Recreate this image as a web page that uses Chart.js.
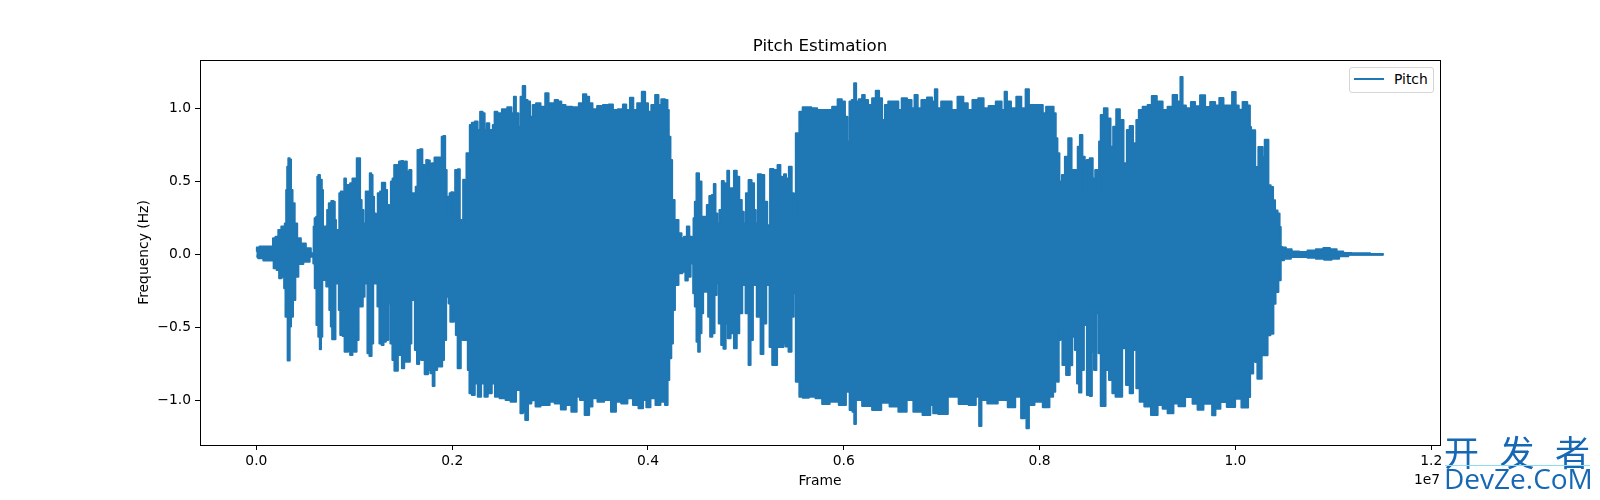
<!DOCTYPE html>
<html>
<head>
<meta charset="utf-8">
<title>Pitch Estimation</title>
<script src="https://cdn.jsdelivr.net/npm/chart.js@4"></script>
<style>
    html, body { margin: 0; padding: 0; background: #fff; }
    #wrap { position: relative; width: 1600px; height: 500px; overflow: hidden; font-family: "DejaVu Sans", sans-serif; }
    #legend { position: absolute; left: 1349px; top: 67px; width: 85px; height: 26px; box-sizing: border-box; border: 1px solid #d5d5d5; border-radius: 3px; background: #fff; }
    #legendLine { position: absolute; left: 4px; top: 10px; width: 30px; height: 2px; background: #1f77b4; }
    #legendText { position: absolute; left: 44px; top: 3px; font-size: 13.89px; line-height: 16px; color: #000; }
    #offset { position: absolute; left: 1414px; top: 471px; font-size: 13.89px; line-height: 16px; color: #000; }
    #markCn { position: absolute; left: 1444px; top: 432px; width: 150px; font-family: "Noto Sans CJK SC"; font-size: 35px; line-height: 38px; color: #1668b4; letter-spacing: 20.5px; white-space: nowrap; }
    #markRule { position: absolute; left: 1445px; top: 465px; width: 145px; height: 1px; background: #8fdcf0; }
    #markEn { position: absolute; left: 1444px; top: 459px; font-family: "Open Sans", sans-serif; font-size: 28px; line-height: 38px; color: #1668b4; white-space: nowrap; }
</style>
</head>
<body>
<div id="wrap">
    <canvas id="pitchChart" width="1600" height="500"></canvas>
    <div id="legend"><div id="legendLine"></div><div id="legendText">Pitch</div></div>
    <div id="offset">1e7</div>
    <div id="markCn">开发者</div>
    <div id="markRule"></div>
    <div id="markEn">DevZe.CoM</div>
</div>
<script>
// upper edge of the waveform
const topFrames = [0,10,54,112,156,184,207,241,269,282,299,310,320,333,347,361,378,405,429,480,531,582,588,602,619,626,639,660,677,684,704,718,728,752,779,796,806,820,840,854,871,888,908,922,942,973,990,1017,1034,1054,1065,1085,1102,1112,1122,1150,1167,1180,1194,1211,1228,1252,1275,1289,1309,1323,1347,1364,1384,1398,1418,1439,1449,1466,1493,1507,1527,1547,1575,1592,1619,1636,1656,1687,1704,1728,1741,1765,1779,1806,1833,1867,1888,1898,1922,1935,1952,1969,1979,2003,2017,2044,2071,2085,2105,2119,2139,2153,2173,2187,2214,2248,2272,2299,2323,2340,2367,2391,2408,2422,2445,2479,2537,2588,2622,2639,2663,2690,2707,2734,2758,2782,2809,2836,2877,2928,2973,2996,3030,3064,3098,3132,3183,3268,3319,3353,3387,3411,3455,3506,3574,3625,3659,3727,3761,3795,3836,3864,3915,3959,3983,4017,4051,4095,4119,4153,4194,4204,4221,4238,4255,4289,4334,4351,4385,4409,4436,4460,4470,4487,4504,4538,4555,4589,4613,4640,4664,4681,4698,4718,4742,4766,4783,4800,4820,4837,4861,4895,4919,4946,4970,4987,5014,5041,5075,5092,5109,5136,5174,5201,5235,5259,5303,5344,5361,5381,5398,5422,5456,5480,5500,5520,5541,5551,5609,5643,5694,5762,5847,5915,5959,6000,6024,6048,6068,6095,6116,6136,6170,6204,6224,6272,6306,6347,6374,6408,6432,6476,6544,6571,6612,6680,6704,6741,6769,6816,6884,6918,6942,6969,7020,7081,7122,7201,7241,7292,7336,7411,7445,7513,7592,7632,7653,7680,7735,7789,7837,7877,7905,7966,8024,8041,8092,8126,8160,8170,8194,8211,8245,8272,8313,8340,8364,8381,8398,8425,8449,8473,8490,8534,8551,8585,8602,8613,8636,8677,8711,8738,8765,8800,8840,8874,8908,8932,8976,9000,9027,9078,9129,9163,9231,9282,9333,9384,9425,9452,9469,9520,9571,9605,9673,9708,9776,9810,9861,9895,9946,9986,10020,10048,10099,10143,10153,10167,10177,10197,10207,10224,10245,10269,10286,10313,10327,10347,10374,10395,10415,10446,10456,10470,10490,10541,10609,10694,10779,10864,10932,11000,11068,11136,11238,11514];
const topValues = [0.02,0.046,0.053,0.053,0.053,0.11,0.12,0.167,0.19,0.132,0.212,0.44,0.6,0.658,0.65,0.44,0.35,0.212,0.11,0.075,0.041,0.007,0.19,0.247,0.258,0.532,0.543,0.51,0.44,0.167,0.19,0.155,0.304,0.35,0.365,0.36,0.235,0.167,0.167,0.418,0.43,0.395,0.52,0.44,0.475,0.486,0.52,0.52,0.658,0.658,0.372,0.304,0.212,0.12,0.43,0.43,0.555,0.543,0.395,0.28,0.212,0.418,0.43,0.49,0.49,0.44,0.338,0.304,0.498,0.52,0.612,0.612,0.532,0.635,0.64,0.59,0.635,0.566,0.578,0.418,0.418,0.463,0.715,0.72,0.612,0.555,0.646,0.642,0.566,0.623,0.664,0.664,0.612,0.806,0.81,0.578,0.395,0.235,0.418,0.425,0.235,0.578,0.582,0.235,0.2,0.51,0.498,0.692,0.692,0.886,0.902,0.909,0.852,0.977,0.966,0.852,0.897,0.852,0.806,0.886,0.977,0.966,0.993,1.007,0.966,1.08,0.966,0.874,1.08,1.153,1.057,1.046,0.943,1.023,1.034,1.011,1.103,1.034,1.034,1.057,1.046,1.023,1.011,1.007,1.034,1.096,1.08,1.034,0.993,1.016,1.023,1.027,0.989,0.993,1.027,0.989,1.073,0.989,1.034,1.114,1.034,0.977,1.023,1.091,1.023,1.062,1.057,0.989,0.806,0.646,0.372,0.235,0.144,0.11,0.12,0.19,0.12,0.064,0.247,0.36,0.555,0.498,0.258,0.258,0.338,0.4,0.406,0.482,0.28,0.212,0.304,0.502,0.486,0.35,0.573,0.452,0.452,0.573,0.532,0.372,0.292,0.212,0.418,0.509,0.486,0.304,0.212,0.548,0.543,0.36,0.2,0.584,0.578,0.612,0.532,0.44,0.548,0.52,0.6,0.418,0.247,0.829,0.829,0.977,1.007,1.007,1.0,0.989,0.989,1.011,1.062,1.046,0.943,0.772,1.046,1.057,1.171,1.046,1.062,1.091,1.057,1.023,1.069,1.121,1.069,0.92,1.023,1.046,1.046,0.989,1.069,1.057,1.0,1.091,1.0,1.057,1.075,1.046,1.13,1.0,1.046,1.046,0.989,1.08,1.034,0.989,1.057,1.069,1.0,1.016,1.046,0.989,1.114,1.046,1.0,1.08,1.0,1.13,1.023,1.023,1.023,0.966,1.011,1.011,0.966,0.795,0.692,0.498,0.543,0.669,0.795,0.578,0.578,0.463,0.737,0.817,0.669,0.429,0.646,0.658,0.52,0.578,0.395,0.772,0.954,1.0,0.931,0.737,0.874,0.993,0.92,0.623,0.852,0.879,0.76,0.92,0.989,1.011,1.023,1.085,1.046,0.989,1.011,1.091,1.046,1.215,1.02,1.0,1.043,1.014,1.089,1.009,1.043,1.02,1.071,1.02,1.02,1.112,1.02,0.99,1.043,1.02,0.872,0.747,0.85,0.85,0.473,0.598,0.735,0.735,0.667,0.785,0.785,0.473,0.461,0.37,0.301,0.279,0.187,0.05,0.046,0.034,0.02,0.016,0.027,0.034,0.043,0.034,0.02,0.009,0.007,0.002];

// lower edge of the waveform
const bottomFrames = [0,37,105,163,190,224,241,275,292,303,316,323,337,344,364,384,412,446,514,575,588,605,622,643,653,667,680,707,721,738,752,769,779,803,813,837,847,867,894,908,932,942,973,990,1010,1037,1051,1075,1099,1112,1126,1143,1167,1187,1200,1228,1245,1269,1289,1309,1337,1357,1381,1398,1422,1439,1452,1473,1500,1520,1561,1575,1592,1612,1626,1656,1670,1697,1741,1765,1789,1813,1826,1867,1888,1908,1925,1952,1976,1986,2010,2024,2051,2061,2081,2095,2119,2146,2153,2166,2187,2214,2248,2275,2316,2343,2384,2425,2449,2520,2571,2622,2683,2711,2734,2758,2792,2826,2877,2928,2979,3013,3081,3139,3183,3251,3292,3319,3387,3411,3455,3513,3591,3653,3693,3761,3819,3874,3932,3966,4000,4051,4102,4153,4194,4207,4228,4248,4262,4289,4334,4368,4395,4419,4453,4470,4487,4504,4521,4538,4555,4572,4589,4606,4623,4647,4668,4692,4709,4736,4759,4783,4804,4827,4861,4895,4919,4946,4980,5014,5041,5055,5089,5133,5167,5191,5225,5259,5279,5310,5327,5371,5395,5415,5456,5476,5500,5520,5541,5551,5609,5677,5745,5813,5898,6000,6044,6075,6102,6112,6136,6238,6340,6425,6510,6605,6680,6741,6867,6901,6925,7003,7122,7224,7326,7371,7394,7418,7513,7632,7717,7785,7837,7854,7877,7905,7990,8075,8126,8150,8170,8187,8204,8221,8245,8296,8320,8347,8374,8391,8415,8439,8466,8500,8524,8544,8568,8592,8613,8636,8660,8687,8731,8755,8796,8830,8857,8908,8932,8976,9000,9044,9095,9180,9231,9282,9333,9401,9435,9537,9588,9639,9708,9748,9776,9816,9878,9946,10048,10075,10116,10143,10157,10170,10194,10211,10238,10258,10279,10293,10320,10337,10378,10398,10422,10456,10470,10524,10609,10694,10779,10864,10949,11017,11102,11204,11514];
const bottomValues = [-0.016,-0.027,-0.043,-0.043,-0.096,-0.107,-0.164,-0.153,-0.233,-0.427,-0.427,-0.728,-0.728,-0.495,-0.427,-0.313,-0.153,-0.066,-0.05,-0.016,-0.062,-0.233,-0.484,-0.564,-0.651,-0.564,-0.176,-0.176,-0.221,-0.199,-0.381,-0.495,-0.582,-0.582,-0.199,-0.199,-0.381,-0.553,-0.559,-0.667,-0.667,-0.564,-0.689,-0.564,-0.667,-0.587,-0.358,-0.358,-0.29,-0.153,-0.199,-0.678,-0.696,-0.61,-0.199,-0.199,-0.358,-0.61,-0.621,-0.598,-0.587,-0.336,-0.61,-0.724,-0.797,-0.797,-0.61,-0.689,-0.781,-0.735,-0.735,-0.61,-0.313,-0.301,-0.655,-0.751,-0.667,-0.724,-0.822,-0.792,-0.815,-0.902,-0.792,-0.769,-0.769,-0.724,-0.587,-0.29,-0.336,-0.461,-0.461,-0.313,-0.553,-0.781,-0.781,-0.21,-0.587,-0.587,-0.473,-0.792,-0.952,-0.963,-0.884,-0.975,-0.884,-0.975,-0.952,-0.884,-0.975,-0.986,-0.998,-1.009,-0.929,-1.089,-1.078,-1.135,-1.021,-1.0,-1.043,-1.032,-1.032,-1.009,-1.021,-1.062,-1.032,-1.078,-0.975,-0.998,-1.1,-1.043,-0.986,-1.009,-0.998,-1.078,-1.009,-1.021,-0.986,-1.032,-1.055,-0.998,-1.048,-0.986,-1.032,-1.009,-1.032,-0.861,-0.712,-0.61,-0.381,-0.21,-0.13,-0.119,-0.18,-0.153,-0.062,-0.267,-0.358,-0.598,-0.667,-0.541,-0.404,-0.176,-0.256,-0.176,-0.427,-0.564,-0.541,-0.279,-0.199,-0.473,-0.621,-0.646,-0.473,-0.575,-0.541,-0.644,-0.541,-0.404,-0.21,-0.404,-0.758,-0.587,-0.21,-0.427,-0.683,-0.473,-0.21,-0.635,-0.758,-0.758,-0.635,-0.635,-0.61,-0.632,-0.667,-0.427,-0.267,-0.872,-0.861,-0.975,-0.982,-0.975,-0.986,-1.025,-1.009,-1.032,-0.941,-1.066,-1.078,-1.162,-0.998,-1.039,-1.066,-1.016,-1.043,-1.078,-0.998,-1.078,-1.1,-1.032,-1.089,-1.094,-0.975,-1.025,-1.032,-0.975,-1.176,-0.998,-1.021,-0.998,-1.048,-0.975,-1.123,-1.021,-1.192,-1.032,-1.009,-1.048,-0.975,-0.941,-0.861,-0.872,-0.587,-0.484,-0.758,-0.826,-0.76,-0.564,-0.655,-0.884,-0.947,-0.792,-0.484,-0.963,-0.97,-0.667,-0.792,-0.404,-0.678,-1.039,-1.039,-0.792,-0.861,-0.952,-0.975,-0.975,-0.644,-0.895,-0.952,-0.655,-0.918,-1.009,-1.043,-1.1,-1.032,-1.057,-1.089,-1.021,-1.041,-0.977,-1.023,-1.064,-1.023,-1.023,-1.103,-1.057,-1.011,-1.046,-0.989,-1.05,-1.05,-0.977,-0.817,-0.817,-0.68,-0.738,-0.852,-0.852,-0.612,-0.692,-0.692,-0.555,-0.544,-0.338,-0.258,-0.178,-0.041,-0.03,-0.018,-0.018,-0.023,-0.03,-0.037,-0.03,-0.014,-0.002,-0.001];

const xTicks = [0, 2000000, 4000000, 6000000, 8000000, 10000000, 12000000];
const yTicks = [-1, -0.5, 0, 0.5, 1];

const BLUE = '#1f77b4';
const FONT = '"DejaVu Sans", sans-serif';

function toPoints(frames, values) {
    // frames are stored in thousands
    return frames.map((f, i) => ({ x: f * 1000, y: values[i] }));
}

// top and right spines, the library only draws the two scale borders
const boxPlugin = {
    id: 'box',
    afterDraw(chart) {
        const { ctx, chartArea: a } = chart;
        ctx.save();
        ctx.strokeStyle = '#000';
        ctx.lineWidth = 1;
        ctx.strokeRect(a.left + 0.5, a.top + 0.5, a.right - a.left, a.bottom - a.top);
        ctx.restore();
    }
};

const tickStyle = { size: 13.89, family: FONT };

new Chart(document.getElementById('pitchChart'), {
    type: 'line',
    data: {
        datasets: [
            {
                label: 'Pitch',
                data: toPoints(topFrames, topValues),
                borderColor: BLUE,
                backgroundColor: BLUE,
                borderWidth: 2,
                borderJoinStyle: 'round',
                stepped: 'middle',
                pointRadius: 0,
                fill: { value: -0.01 }
            },
            {
                label: 'Pitch (lower)',
                data: toPoints(bottomFrames, bottomValues),
                borderColor: BLUE,
                backgroundColor: BLUE,
                borderWidth: 2,
                borderJoinStyle: 'round',
                stepped: 'middle',
                pointRadius: 0,
                fill: { value: 0 }
            }
        ]
    },
    plugins: [boxPlugin],
    options: {
        responsive: false,
        animation: false,
        devicePixelRatio: 1,
        layout: { padding: { left: 136, right: 160, top: 0, bottom: 0 } },
        plugins: {
            legend: { display: false },
            tooltip: { enabled: false },
            title: {
                display: true,
                text: 'Pitch Estimation',
                color: '#000',
                fullSize: false,
                font: { size: 16.67, family: FONT, weight: 'normal' },
                padding: { top: 37, bottom: 3 }
            }
        },
        scales: {
            x: {
                type: 'linear',
                min: -575700,
                max: 12089700,
                afterFit(scale) { scale.height = 55; },
                afterBuildTicks(scale) { scale.ticks = xTicks.map(v => ({ value: v })); },
                grid: { drawOnChartArea: false, tickLength: 5, tickColor: '#000', tickWidth: 1 },
                border: { color: '#000', width: 1 },
                ticks: {
                    color: '#000',
                    font: tickStyle,
                    padding: 3,
                    maxRotation: 0,
                    autoSkip: false,
                    callback: v => (v / 1e7).toFixed(1)
                },
                title: {
                    display: true,
                    text: 'Frame',
                    color: '#000',
                    font: tickStyle,
                    padding: { top: 0, bottom: 10 }
                }
            },
            y: {
                min: -1.306,
                max: 1.331,
                afterFit(scale) { scale.width = 64; },
                afterBuildTicks(scale) { scale.ticks = yTicks.map(v => ({ value: v })); },
                grid: { drawOnChartArea: false, tickLength: 5, tickColor: '#000', tickWidth: 1 },
                border: { color: '#000', width: 1 },
                ticks: {
                    color: '#000',
                    font: tickStyle,
                    padding: 4,
                    autoSkip: false,
                    callback: v => (v < 0 ? '\u2212' : '') + Math.abs(v).toFixed(1)
                },
                title: {
                    display: true,
                    text: 'Frequency (Hz)',
                    color: '#000',
                    font: tickStyle,
                    padding: { top: 0, bottom: 4 }
                }
            }
        }
    }
});
</script>
</body>
</html>
